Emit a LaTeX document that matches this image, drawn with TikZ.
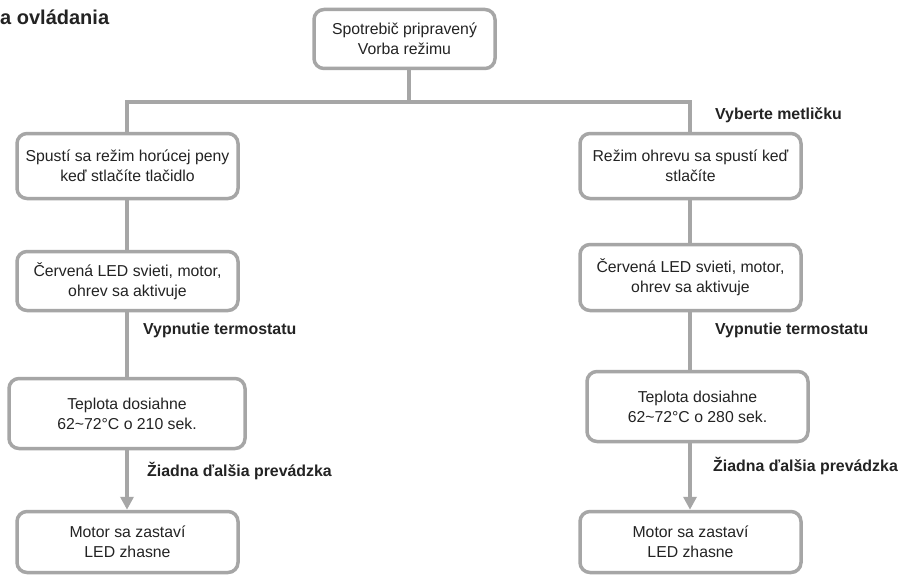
\documentclass[tikz,border=0pt]{standalone}
\usepackage{fontspec}
\setmainfont{Liberation Sans}
\usetikzlibrary{arrows.meta}
\definecolor{lg}{RGB}{166,166,166}
\definecolor{tx}{RGB}{35,35,35}
\tikzset{
  stepbox/.style={draw=lg, line width=3.5pt, rounded corners=10pt, fill=white,
    align=center, inner sep=0pt, text=tx,
    font=\fontsize{15.8}{20}\selectfont},
  conn/.style={draw=lg, line width=4pt},
  arr/.style={draw=lg, line width=4pt, -{Triangle[length=13pt,width=13pt]}},
  lbl/.style={anchor=west, inner sep=0pt, text=tx, font=\fontsize{15.9}{20}\selectfont\bfseries},
}
\begin{document}
\begin{tikzpicture}[x=1pt,y=-1pt]
\useasboundingbox[fill=white] (0,0) rectangle (901,575);
\node[anchor=west, inner sep=0pt, text=tx, font=\fontsize{20}{24}\selectfont\bfseries] (title) at (0,17) {a ovládania};

\node[stepbox, minimum width=181pt, minimum height=59pt] (top) at (404.5,39) {Spotrebič pripravený\\Vorba režimu};

\coordinate (jL) at (127,102);
\coordinate (jR) at (690,102);
\coordinate (jM) at (409,102);

% left column
\node[stepbox, minimum width=221pt, minimum height=65pt] (L1) at (127.5,166) {Spustí sa režim horúcej peny\\keď stlačíte tlačidlo};
\node[stepbox, minimum width=221pt, minimum height=59pt] (L2) at (127.5,281) {Červená LED svieti, motor,\\ohrev sa aktivuje};
\node[stepbox, minimum width=236pt, minimum height=70pt] (L3) at (127,413.5) {Teplota dosiahne\\62\textasciitilde72°C o 210 sek.};
\node[stepbox, minimum width=221pt, minimum height=61pt] (L4) at (127.5,542) {Motor sa zastaví\\LED zhasne};

% right column
\node[stepbox, minimum width=221pt, minimum height=65pt] (R1) at (690.5,166) {Režim ohrevu sa spustí keď\\stlačíte};
\node[stepbox, minimum width=221pt, minimum height=66pt] (R2) at (690.5,277.5) {Červená LED svieti, motor,\\ohrev sa aktivuje};
\node[stepbox, minimum width=221pt, minimum height=70pt] (R3) at (697.5,406.5) {Teplota dosiahne\\62\textasciitilde72°C o 280 sek.};
\node[stepbox, minimum width=221pt, minimum height=61pt] (R4) at (690.5,542) {Motor sa zastaví\\LED zhasne};

% labels
\node[lbl] (vm) at (715,115) {Vyberte metličku};
\node[lbl] (vtL) at (143,330) {Vypnutie termostatu};
\node[lbl] (vtR) at (715,330) {Vypnutie termostatu};
\node[lbl] (zdL) at (147,471) {Žiadna ďalšia prevádzka};
\node[lbl] (zdR) at (713,466) {Žiadna ďalšia prevádzka};

% connectors
\draw[conn] (top.south -| jM) -- (jM);
\draw[conn] ([xshift=-2pt]jL) -- ([xshift=2pt]jR);
\draw[conn] (jL) -- (L1.north -| jL);
\draw[conn] (jR) -- (R1.north -| jR);
\draw[conn] (L1.south -| jL) -- (L2.north -| jL);
\draw[conn] (L2.south -| jL) -- (L3.north -| jL);
\draw[arr] (L3.south -| jL) -- (L4.north -| jL);
\draw[conn] (R1.south -| jR) -- (R2.north -| jR);
\draw[conn] (R2.south -| jR) -- (R3.north -| jR);
\draw[arr] (R3.south -| jR) -- (R4.north -| jR);
\end{tikzpicture}
\end{document}
